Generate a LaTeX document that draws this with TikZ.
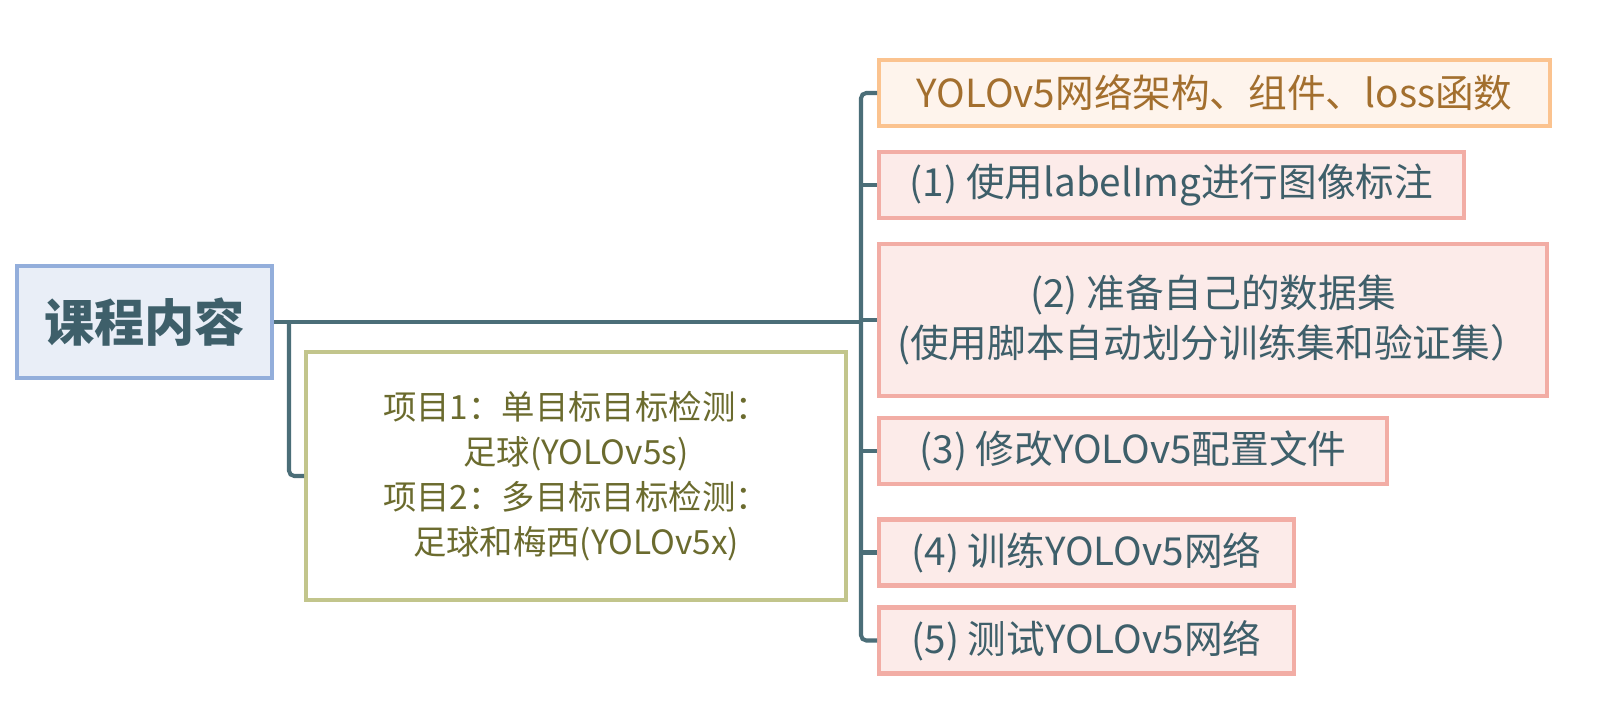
\documentclass[tikz,border=0pt]{standalone}
\usepackage{fontspec}
\setmainfont{Noto Sans CJK SC}
\usepackage{tikz}
\usetikzlibrary{positioning}
\usepackage{xcolor}
\definecolor{linkc}{HTML}{4B6E78}
\definecolor{rootfill}{HTML}{E9EEF7}
\definecolor{rootline}{HTML}{93AEDB}
\definecolor{rootText}{HTML}{3E5F6A}
\definecolor{topfill}{HTML}{FEF4EC}
\definecolor{topline}{HTML}{FBC38F}
\definecolor{toptext}{HTML}{A36F2E}
\definecolor{stepfill}{HTML}{FCEBE9}
\definecolor{stepline}{HTML}{F2ADA5}
\definecolor{projline}{HTML}{C2C58C}
\definecolor{projtext}{HTML}{6B6B2E}

\begin{document}
\begin{tikzpicture}[x=0.02cm,y=-0.02cm,
  link/.style={draw=linkc,line width=2.3pt,rounded corners=3pt},
  box/.style={rectangle,line width=2.3pt,inner sep=0pt,align=center},
  stepbox/.style={box,draw=stepline,fill=stepfill,text=rootText,font=\fontsize{22}{29}\selectfont,minimum height=1.32cm}]
\useasboundingbox[fill=white] (0,0) rectangle (1611,722);
\node[box,draw=rootline,fill=rootfill,text=rootText,font=\fontsize{28.6}{32}\selectfont\bfseries,
  minimum width=5.1cm,minimum height=2.24cm] (root) at (144.5,322) {课程内容};
\node[box,draw=projline,fill=white,text=projtext,font=\fontsize{19}{25.5}\selectfont,
  minimum width=10.8cm,minimum height=4.96cm] (proj) at (576,476)
  {项目1：单目标目标检测：\\ 足球(YOLOv5s)\\ 项目2：多目标目标检测：\\ 足球和梅西(YOLOv5x)};
\node[stepbox,draw=topline,fill=topfill,text=toptext,minimum width=13.42cm] (b0) at (1214.5,93) {YOLOv5网络架构、组件、loss函数};
\node[stepbox,minimum width=11.7cm] (b1) at (1171.5,185) {(1) 使用labelImg进行图像标注};
\node[stepbox,minimum width=13.36cm,minimum height=3.04cm] (b2) at (1213,320) {(2) 准备自己的数据集\\(使用脚本自动划分训练集和验证集）};
\node[stepbox,minimum width=10.16cm] (b3) at (1133,451) {(3) 修改YOLOv5配置文件};
\node[stepbox,minimum width=8.3cm] (b4) at (1086.5,552.5) {(4) 训练YOLOv5网络};
\node[stepbox,minimum width=8.3cm] (b5) at (1086.5,640.5) {(5) 测试YOLOv5网络};
\coordinate (sp) at (861,322);
\coordinate (br) at (289,322);
\draw[link] (root.east) -- (sp);
\draw[link] (br) |- (proj.west);
\draw[link] (b0.west) -- (b0.west -| sp) -- (b5.west -| sp) -- (b5.west);
\foreach \b in {b1,b2,b3,b4}
  \draw[link] (\b.west -| sp) -- (\b.west);
\end{tikzpicture}
\end{document}
